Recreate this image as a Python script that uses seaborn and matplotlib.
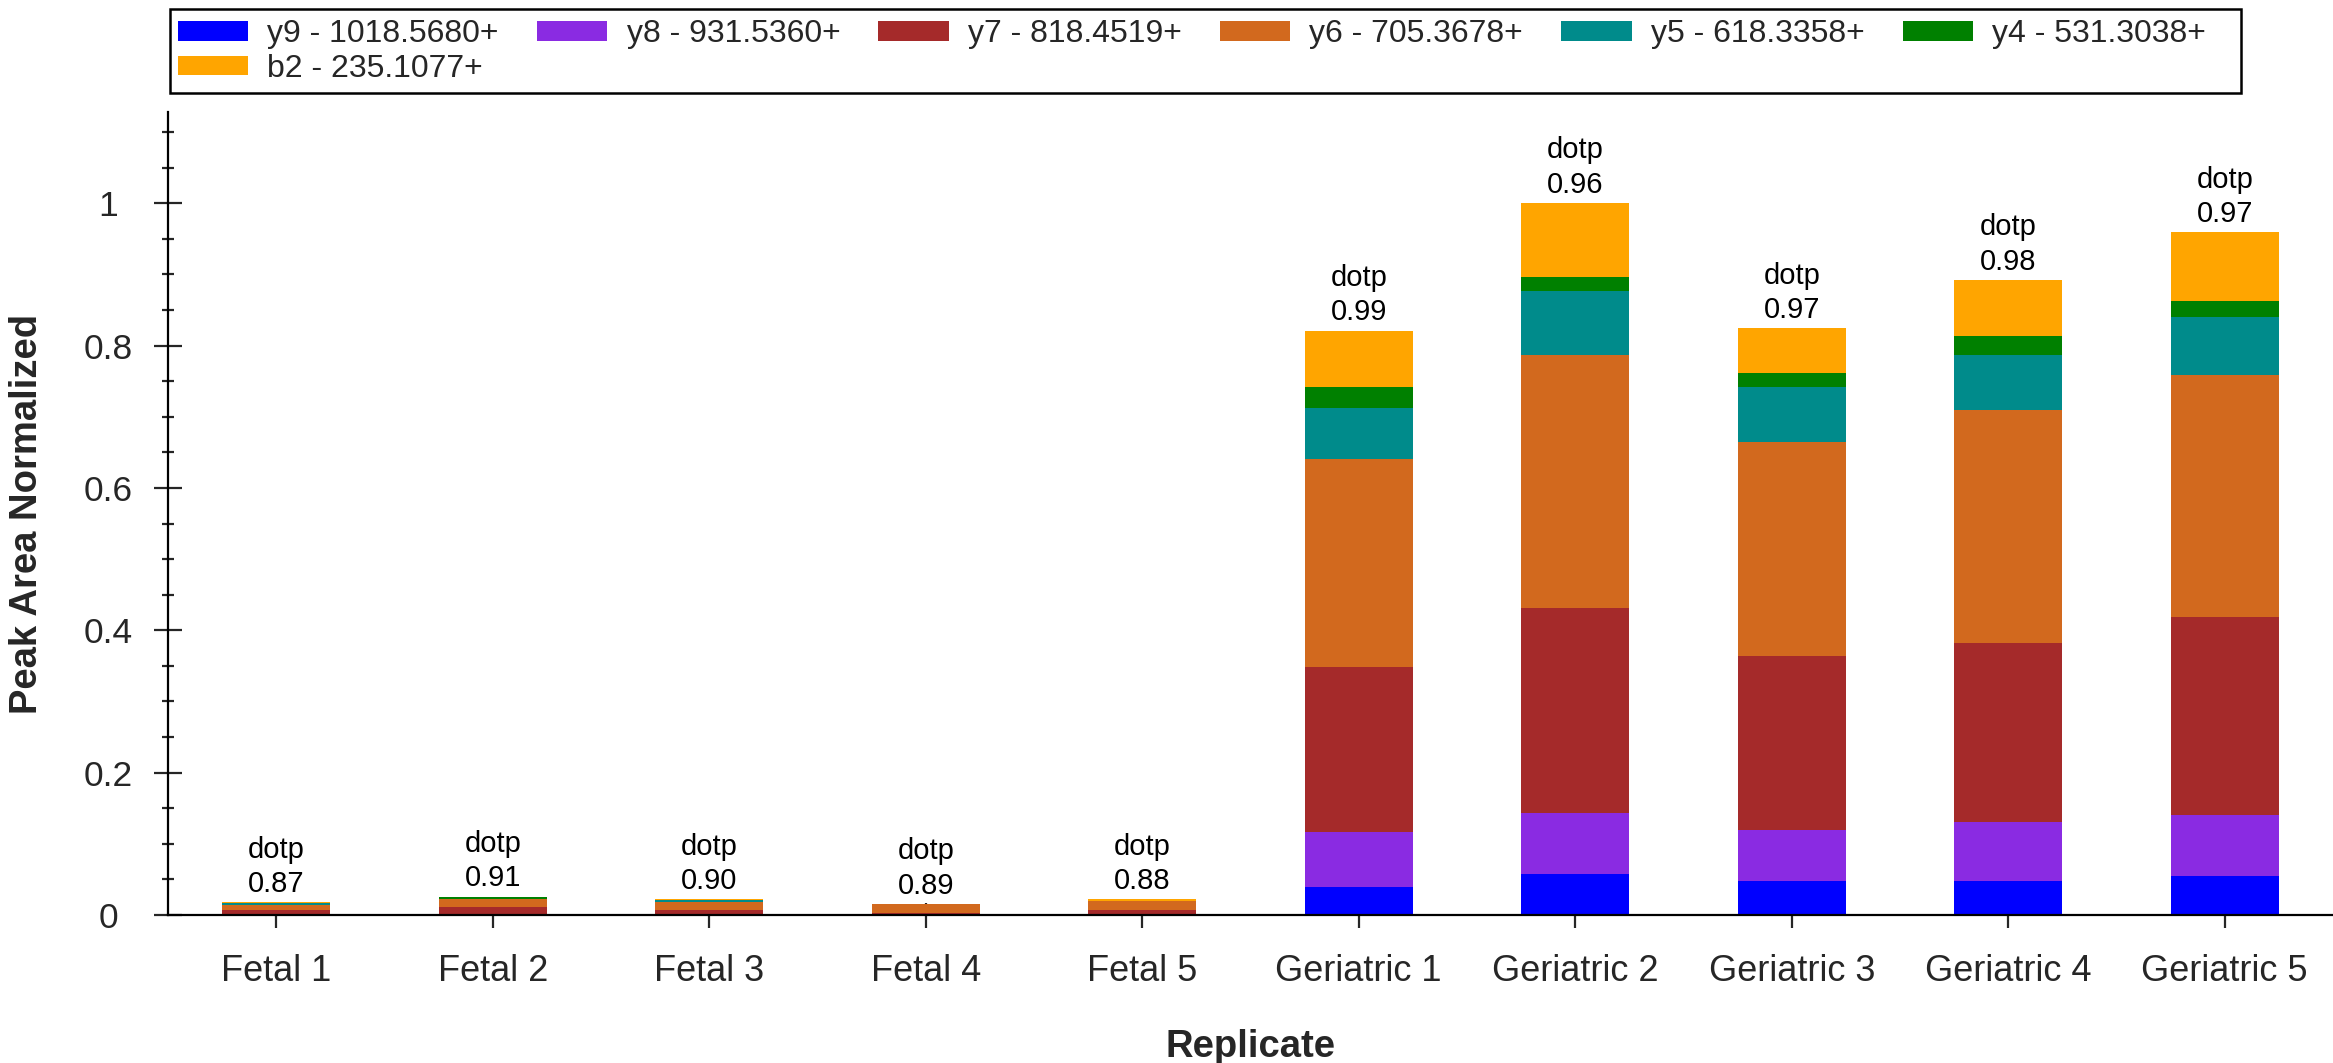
import numpy as np
import pandas as pd
import matplotlib
matplotlib.use("Agg")
import matplotlib.pyplot as plt
from matplotlib.ticker import MultipleLocator, FuncFormatter
from matplotlib.patches import Patch, Rectangle
import seaborn as sns

# Replicates and ion labels
replicates = ["Fetal 1", "Fetal 2", "Fetal 3", "Fetal 4", "Fetal 5",
              "Geriatric 1", "Geriatric 2", "Geriatric 3", "Geriatric 4", "Geriatric 5"]
ions = ["y9 - 1018.5680+", "y8 - 931.5360+", "y7 - 818.4519+", "y6 - 705.3678+",
        "y5 - 618.3358+", "y4 - 531.3038+", "b2 - 235.1077+"]
ion_colors = ["#0000FF", "#8A2BE2", "#A52A2A", "#D2691E", "#008B8B", "#008000", "#FFA500"]

# Peak area (normalized) per ion (bottom -> top in stack)
y9 = [0.0003, 0.0003, 0.0003, 0.0002, 0.0003, 0.040, 0.058, 0.048, 0.048, 0.055]
y8 = [0.0008, 0.0007, 0.0006, 0.0003, 0.0005, 0.076, 0.086, 0.072, 0.083, 0.085]
y7 = [0.0060, 0.0100, 0.0065, 0.0030, 0.0068, 0.233, 0.288, 0.244, 0.251, 0.278]
y6 = [0.0075, 0.0110, 0.0112, 0.0113, 0.0122, 0.292, 0.355, 0.301, 0.327, 0.341]
y5 = [0.0022, 0.0010, 0.0028, 0.0004, 0.0003, 0.071, 0.090, 0.077, 0.078, 0.081]
y4 = [0.0005, 0.0025, 0.0004, 0.0002, 0.0002, 0.030, 0.019, 0.020, 0.026, 0.022]
b2 = [0.0005, 0.0003, 0.0003, 0.0001, 0.0018, 0.079, 0.104, 0.062, 0.079, 0.097]

dotp = [0.87, 0.91, 0.90, 0.89, 0.88, 0.99, 0.96, 0.97, 0.98, 0.97]

df = pd.DataFrame({"y9": y9, "y8": y8, "y7": y7, "y6": y6, "y5": y5, "y4": y4, "b2": b2},
                  index=replicates)
cum = df.cumsum(axis=1)

sns.set_style("white")
plt.rcParams["font.family"] = ["Liberation Sans", "DejaVu Sans"]

fig = plt.figure(figsize=(23.33, 10.63), dpi=100)
ax = fig.add_axes([0.072, 0.1392, 0.928, 0.7554])

# draw stacked bars: cumulative totals from top layer down
for col, color in zip(reversed(df.columns), reversed(ion_colors)):
    sns.barplot(x=replicates, y=cum[col].values, order=replicates, color=color,
                saturation=1, width=0.5, errorbar=None, linewidth=0, ax=ax)

totals = cum["b2"].values
for i, (tot, d) in enumerate(zip(totals, dotp)):
    ax.annotate(f"dotp\n{d:.2f}", xy=(i, tot), xytext=(0, 3), textcoords="offset points",
                ha="center", va="bottom", fontsize=21, linespacing=1.3, color="black")

ax.set_xlim(-0.5, 9.5)
ax.set_ylim(0, 1.128)
ax.yaxis.set_major_locator(MultipleLocator(0.2))
ax.yaxis.set_minor_locator(MultipleLocator(0.05))
ax.yaxis.set_major_formatter(FuncFormatter(lambda v, p: f"{v:g}"))

for s in ["top", "right"]:
    ax.spines[s].set_visible(False)
for s in ["left", "bottom"]:
    ax.spines[s].set_linewidth(1.6)
    ax.spines[s].set_color("black")

ax.tick_params(axis="y", which="major", direction="inout", length=20, width=1.6,
               labelsize=25.5, pad=33, left=True)
ax.tick_params(axis="y", which="minor", direction="inout", length=9, width=1.6, left=True)
ax.tick_params(axis="x", which="major", direction="inout", length=18, width=1.6,
               labelsize=26, pad=19, bottom=True)
for lbl in ax.get_yticklabels():
    lbl.set_horizontalalignment("center")

ax.set_xlabel("Replicate", fontsize=27.5, fontweight="bold", labelpad=29)
ax.set_ylabel("Peak Area Normalized", fontsize=27.5, fontweight="bold", labelpad=28)

# legend in a boxed strip above the plot
fig.patches.append(Rectangle((170 / 2333, 1 - 93 / 1063), 2071 / 2333, 84 / 1063,
                             transform=fig.transFigure, fill=False, edgecolor="black",
                             linewidth=1.8))
# matplotlib fills legend columns first; order so row 1 = y9..y4, row 2 = b2
leg_order = [0, 6, 1, 2, 3, 4, 5]
handles = [Patch(facecolor=ion_colors[k], edgecolor="none") for k in leg_order]
labels = [ions[k] for k in leg_order]
fig.legend(handles, labels, loc="upper left", ncol=6, mode="expand",
           bbox_to_anchor=(178 / 2333, 1 - 19 / 1063, 2028 / 2333, 0.0),
           frameon=False, fontsize=23, handlelength=2.2, handleheight=0.58,
           handletextpad=0.6, labelspacing=0.15, borderpad=0, borderaxespad=0)

fig.savefig("out.png", dpi=100)
